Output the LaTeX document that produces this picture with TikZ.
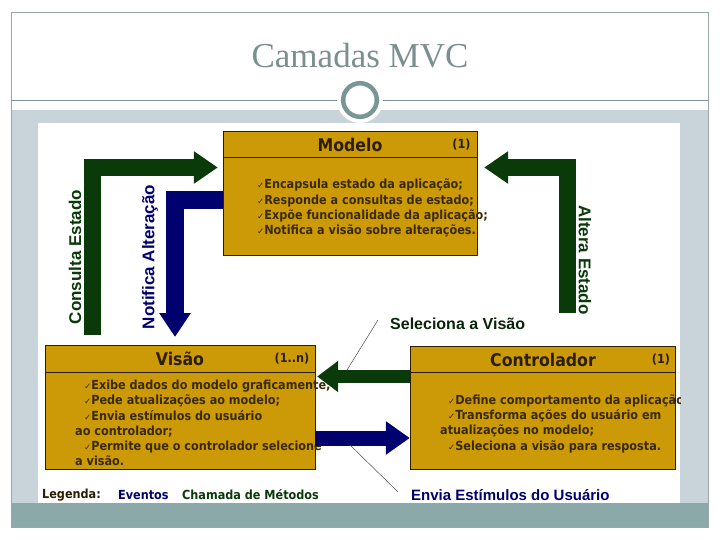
\documentclass[tikz,border=0pt]{standalone}
\usepackage{fontspec}
\usepackage{xcolor}
\usepackage{tikz}
\usetikzlibrary{arrows.meta,positioning,calc}
\newfontfamily\boxfont{DejaVu Sans Condensed}
\newfontfamily\lblfont{Liberation Sans}
\newfontfamily\titlefont{Liberation Serif}
\newfontfamily\checkfont{DejaVu Sans}
\definecolor{mvcgold}{HTML}{CC9A06}
\definecolor{mvcdark}{HTML}{2B1F00}
\definecolor{mvctext}{HTML}{3A2A00}
\definecolor{mvcgreen}{HTML}{0A3A0A}
\definecolor{mvcblue}{HTML}{00006E}
\definecolor{selgreen}{HTML}{0A240A}
\definecolor{bandblue}{HTML}{C9D3DA}
\definecolor{bandteal}{HTML}{8CA9A9}
\definecolor{titlegray}{HTML}{7C8F8F}
\definecolor{ringgray}{HTML}{7A9595}
\definecolor{framegray}{HTML}{9AA5A5}
\newcommand{\chk}{{\checkfont\fontsize{8.5}{8.5}\selectfont ✓}}

\begin{document}
\begin{tikzpicture}[
  x=1pt, y=-1pt,
  mvcbox/.style={rectangle, draw=mvcdark, fill=mvcgold, inner sep=0pt},
  hdr/.style={font=\boxfont\bfseries\fontsize{17.5}{20}\selectfont, text=mvcdark, inner sep=0pt},
  mult/.style={font=\boxfont\bfseries\fontsize{12.5}{14}\selectfont, text=mvcdark, inner sep=0pt},
  boxtxt/.style={font=\boxfont\bfseries\fontsize{12.5}{15.2}\selectfont, text=mvctext,
                 align=left, inner sep=0pt, anchor=north west},
  arrowlbl/.style={font=\lblfont\bfseries\fontsize{17}{17}\selectfont, inner sep=0pt},
  legtxt/.style={font=\boxfont\bfseries\fontsize{12.5}{14}\selectfont, anchor=west, inner sep=0pt},
  fatgreen/.style={draw=mvcgreen, line width=17pt, line join=miter,
                   -{Triangle[length=24pt,width=31pt]}},
  fatblue/.style={draw=mvcblue, line width=18pt, line join=miter,
                  -{Triangle[length=24pt,width=30pt]}},
  pointer/.style={draw=black!70, line width=0.5pt}
]
\useasboundingbox (0,0) rectangle (720,540);

% Slide frame
\fill[bandblue] (11,110) rectangle (708,503);
\fill[bandteal] (11,503) rectangle (708,527);
\draw[framegray, line width=0.8pt] (11,12) rectangle (708,527);
\draw[ringgray, line width=0.8pt] (11,100) -- (708,100);
\fill[white] (360,100) circle (23pt);
\draw[ringgray, line width=4.5pt, fill=white] (360,100) circle (16.8pt);
\node[font=\titlefont\fontsize{35}{40}\selectfont, text=titlegray] (title) at (360,56) {Camadas MVC};
\fill[white] (38,123) rectangle (680,503);

\begin{scope}
\clip (38,123) rectangle (680,503);

% Modelo Box
\node[mvcbox, minimum width=254pt, minimum height=124pt] (modelo) at (350,193) {};
\draw[mvcdark] ([yshift=-26pt]modelo.north west) -- ([yshift=-26pt]modelo.north east);
\node[hdr] (modelo-hdr) at (350,145) {Modelo};
\node[mult] (modelo-n) at (461.5,145) {(1)};
\node[boxtxt] (modelo-txt) at (257,179) {
  \chk Encapsula estado da aplicação;\\
  \chk Responde a consultas de estado;\\
  \chk Expõe funcionalidade da aplicação;\\
  \chk Notifica a visão sobre alterações.
};

% Visao Box
\node[mvcbox, minimum width=270pt, minimum height=124pt] (visao) at (180,407) {};
\draw[mvcdark] ([yshift=-27pt]visao.north west) -- ([yshift=-27pt]visao.north east);
\node[hdr] (visao-hdr) at (180,359) {Visão};
\node[mult] (visao-n) at (292,359) {(1..n)};
\node[boxtxt] (visao-txt) at (75,380) {
  \hspace*{9pt}\chk Exibe dados do modelo graficamente;\\
  \hspace*{9pt}\chk Pede atualizações ao modelo;\\
  \hspace*{9pt}\chk Envia estímulos do usuário\\
  ao controlador;\\
  \hspace*{9pt}\chk Permite que o controlador selecione\\
  a visão.
};

% Controlador Box
\node[mvcbox, minimum width=265pt, minimum height=123pt] (controlador) at (542.5,407.5) {};
\draw[mvcdark] ([yshift=-26pt]controlador.north west) -- ([yshift=-26pt]controlador.north east);
\node[hdr] (controlador-hdr) at (543,360) {Controlador};
\node[mult] (controlador-n) at (661,360) {(1)};
\node[boxtxt] (controlador-txt) at (440,394.5) {
  \hspace*{8pt}\chk Define comportamento da aplicação\\
  \hspace*{8pt}\chk Transforma ações do usuário em\\
  atualizações no modelo;\\
  \hspace*{8pt}\chk Seleciona a visão para resposta.
};

% Arrows
\coordinate (consulta-start) at (92,335);
\coordinate (notifica-end) at (175,337);
\coordinate (altera-start) at (567,313);
\draw[fatgreen] (consulta-start) |- ([shift={(-5pt,25.5pt)}]modelo.west);
\draw[fatblue] ([yshift=-7pt]modelo.west) -| (notifica-end);
\draw[fatgreen] (altera-start) |- ([shift={(7pt,25.5pt)}]modelo.east);
\draw[fatgreen, line width=13pt, -{Triangle[length=21pt,width=30pt]}]
  ([yshift=31pt]controlador.west) -- ([shift={(2pt,31pt)}]controlador.west -| visao.east);
\draw[fatblue, line width=15pt, -{Triangle[length=24pt,width=32pt]}]
  ([yshift=-31pt]visao.east) -- ([yshift=-31pt]visao.east -| controlador.west);

% Arrow labels
\node[arrowlbl, text=mvcgreen, rotate=90] (consulta-lbl) at (75,257) {Consulta Estado};
\node[arrowlbl, text=mvcblue, rotate=90] (notifica-lbl) at (150,257) {Notifica Alteração};
\node[arrowlbl, text=mvcgreen, rotate=-90] (altera-lbl) at (585,260) {Altera Estado};
\node[arrowlbl, text=selgreen, font=\lblfont\bfseries\fontsize{16}{16}\selectfont,
      anchor=west] (seleciona-lbl) at (390,324) {Seleciona a Visão};
\node[arrowlbl, text=mvcblue, font=\lblfont\bfseries\fontsize{15}{15}\selectfont,
      anchor=west] (envia-lbl) at (411,495) {Envia Estímulos do Usuário};
\coordinate (seleciona-pt) at (347,370);
\coordinate (envia-pt) at (350,445);
\draw[pointer] ([xshift=-12pt,yshift=4pt]seleciona-lbl.west) -- (seleciona-pt);
\draw[pointer] ([xshift=-13pt,yshift=3pt]envia-lbl.west) -- (envia-pt);

% Legend
\node[legtxt, text=mvcdark] (legenda) at (42,495) {Legenda:};
\node[legtxt, text=mvcblue] (eventos) at (118,495) {Eventos};
\node[legtxt, text=mvcgreen] (chamada) at (182,495) {Chamada de Métodos};
\end{scope}

\end{tikzpicture}
\end{document}
